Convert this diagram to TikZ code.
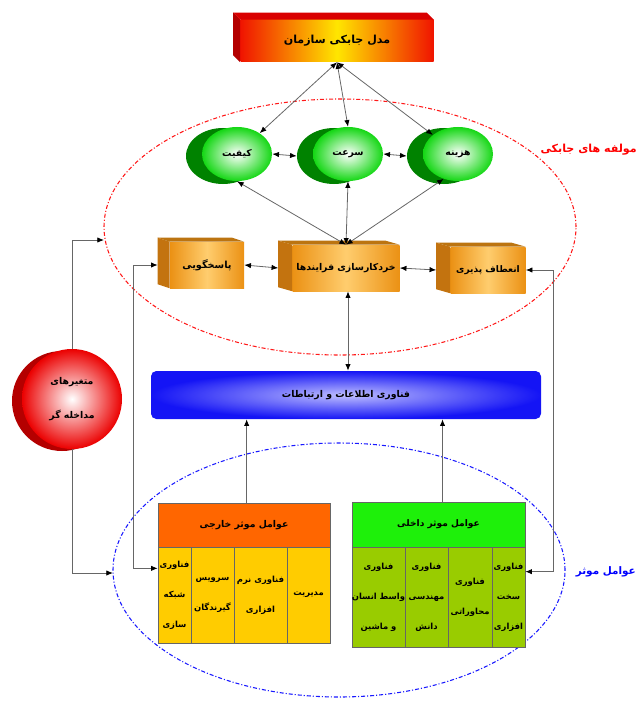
\documentclass[tikz,border=0pt]{standalone}
\usepackage{fontspec}
\newfontfamily\fa[Script=Arabic]{DejaVu Sans}
\TeXXeTstate=1
\usetikzlibrary{shapes.geometric,arrows.meta}
\newcommand{\Rl}[1]{\beginR #1\endR}
\newcommand{\fs}[2]{\fa\bfseries\fontsize{#1}{#2}\selectfont}
\def\pxu{0.75pt}
\definecolor{topred}{RGB}{240,20,0}
\definecolor{topyel}{RGB}{255,230,0}
\definecolor{gdark}{RGB}{0,130,0}
\definecolor{gmain}{RGB}{20,215,20}
\definecolor{orA}{RGB}{235,145,20}
\definecolor{orB}{RGB}{255,205,110}
\definecolor{orSide}{RGB}{195,115,15}
\definecolor{itblue}{RGB}{20,20,245}
\definecolor{itlight}{RGB}{190,190,255}
\definecolor{extH}{RGB}{255,102,0}
\definecolor{extB}{RGB}{255,204,0}
\definecolor{intH}{RGB}{30,240,10}
\definecolor{intB}{RGB}{153,204,0}
\definecolor{cred}{RGB}{235,0,0}
\definecolor{cdark}{RGB}{180,0,0}
\begin{document}
\begin{tikzpicture}[x=0.75pt,y=-0.75pt,
  font=\fs{7.5}{10},
  >={Latex[length=5pt,width=4pt,color=black]},
  link/.style={draw=black!60, line width=0.6pt},
  topface/.style={rectangle, left color=topred, right color=topred, middle color=topyel, inner sep=0pt},
  backell/.style={ellipse, fill=gdark, minimum width=74*\pxu, minimum height=56*\pxu, inner sep=0pt},
  frontell/.style={ellipse, inner color=white, outer color=gmain, minimum width=70*\pxu, minimum height=54*\pxu, inner sep=0pt, font=\fs{7}{9}},
  obox/.style={rectangle, left color=orA, right color=orA, middle color=orB, minimum height=46*\pxu, inner sep=0pt},
  oside/.style={fill=orSide},
  itbar/.style={rectangle, rounded corners=4pt, inner color=itlight, outer color=itblue, minimum width=390*\pxu, minimum height=48*\pxu, inner sep=0pt, font=\fs{7}{9}},
  exthead/.style={rectangle, draw=black!60, fill=extH, minimum width=172*\pxu, minimum height=44*\pxu, inner sep=0pt, font=\fs{7}{9}},
  inthead/.style={rectangle, draw=black!60, fill=intH, minimum width=173*\pxu, minimum height=45*\pxu, inner sep=0pt, font=\fs{6.8}{9}},
  extcell/.style={rectangle, draw=black!60, fill=extB, minimum height=96*\pxu, inner sep=0pt},
  intcell/.style={rectangle, draw=black!60, fill=intB, minimum height=100*\pxu, inner sep=0pt},
  celltext/.style={inner sep=0pt, align=center, font=\fs{6.3}{22.5}},
  reddash/.style={draw=red!90, line width=0.8pt, dash pattern=on 3pt off 1.5pt on 0.8pt off 1.5pt},
  bluedash/.style={draw=blue!90, line width=0.8pt, dash pattern=on 3pt off 1.5pt on 0.8pt off 1.5pt}
]
\useasboundingbox (0,0) rectangle (639,706);

% dash-dot ellipses
\draw[reddash] (340,227) ellipse [x radius=177pt, y radius=96pt];
\draw[bluedash] (339,570) ellipse [x radius=169.5pt, y radius=95.25pt];

% top box
\node[topface, minimum width=193*\pxu, minimum height=42*\pxu, font=\fs{8.3}{10}] (top) at (337,41) {\Rl{مدل جابکی سازمان}};
\fill[cdark] (top.north west) -- ++(-7,-7) -- ([shift={(-7,-7)}]top.south west) -- (top.south west) -- cycle;
\fill[red!85!black] (top.north west) -- ++(-7,-7) -- ([shift={(-7,-7)}]top.north east) -- (top.north east) -- cycle;

% green ellipses
\node[backell] (qualb) at (223,156) {};
\node[frontell] (qual) at (237,154) {\Rl{کیفیت}};
\node[backell] (speedb) at (334,156) {};
\node[frontell] (speed) at (348,154) {\Rl{سرعت}};
\node[backell] (costb) at (444,156) {};
\node[frontell] (cost) at (458,154) {\Rl{هزینه}};

% orange boxes
\node[obox, minimum width=74*\pxu, font=\fs{7.3}{9}] (resp) at (207,265) {\Rl{پاسخگویی}};
\fill[oside] (resp.north west) -- ++(-12,-4) -- ([shift={(-12,-4)}]resp.south west) -- (resp.south west) -- cycle;
\fill[orA!80!black] (resp.north west) -- ++(-12,-4) -- ([shift={(-12,-4)}]resp.north east) -- (resp.north east) -- cycle;
\node[obox, minimum width=107*\pxu, font=\fs{7}{9}] (proc) at (346,268) {\Rl{خردکارسازی فرایندها}};
\fill[oside] (proc.north west) -- ++(-14,-4) -- ([shift={(-14,-4)}]proc.south west) -- (proc.south west) -- cycle;
\fill[orA!80!black] (proc.north west) -- ++(-14,-4) -- ([shift={(-14,-4)}]proc.north east) -- (proc.north east) -- cycle;
\node[obox, minimum width=75*\pxu, font=\fs{6.8}{9}] (flex) at (488,270) {\Rl{انعطاف پذیری}};
\fill[oside] (flex.north west) -- ++(-14,-4) -- ([shift={(-14,-4)}]flex.south west) -- (flex.south west) -- cycle;
\fill[orA!80!black] (flex.north west) -- ++(-14,-4) -- ([shift={(-14,-4)}]flex.north east) -- (flex.north east) -- cycle;

% IT bar
\node[itbar] (it) at (346,395) {\Rl{فناوری اطلاعات و ارتباطات}};

% red circle
\node[circle, fill=cdark, minimum size=100*\pxu, inner sep=0pt] (circb) at (62,401) {};
\node[circle, inner color=white, outer color=cred, minimum size=100*\pxu, inner sep=0pt, align=center, font=\fs{7}{26}] (circ) at (72,399) {\Rl{متغیرهای}\\\Rl{مداخله گر}};

% external table
\node[exthead] (exth) at (244,525) {\Rl{عوامل موثر خارجی}};
\node[extcell, minimum width=33*\pxu] (ext1) at (174.5,595) {};
\node[extcell, minimum width=43*\pxu] (ext2) at (212.5,595) {};
\node[extcell, minimum width=53*\pxu] (ext3) at (260.5,595) {};
\node[extcell, minimum width=43*\pxu] (ext4) at (308.5,595) {};
\node[celltext] (ext1t) at (ext1) {\Rl{فناوری}\\\Rl{شبکه}\\\Rl{سازی}};
\node[celltext] (ext2t) at (ext2) {\Rl{سرویس}\\\Rl{گیرندگان}};
\node[celltext] (ext3t) at (ext3) {\Rl{فناوری نرم}\\\Rl{افزاری}};
\node[celltext] (ext4t) at (ext4) {\Rl{مدیریت}};

% internal table
\node[inthead] (inth) at (438.5,524.5) {\Rl{عوامل موثر داخلی}};
\node[intcell, minimum width=53*\pxu] (int1) at (378.5,597) {};
\node[intcell, minimum width=43*\pxu] (int2) at (426.5,597) {};
\node[intcell, minimum width=44*\pxu] (int3) at (470,597) {};
\node[intcell, minimum width=33*\pxu] (int4) at (508.5,597) {};
\node[celltext] (int1t) at (int1) {\Rl{فناوری}\\\Rl{واسط انسان}\\\Rl{و ماشین}};
\node[celltext] (int2t) at (int2) {\Rl{فناوری}\\\Rl{مهندسی}\\\Rl{دانش}};
\node[celltext] (int3t) at (int3) {\Rl{فناوری}\\\Rl{محاوراتی}};
\node[celltext] (int4t) at (int4) {\Rl{فناوری}\\\Rl{سخت}\\\Rl{افزاری}};

% labels
\node[text=red, font=\fs{8.3}{10}, anchor=east, inner sep=0pt] (lab1) at (637,150) {\Rl{مولفه های جابکی}};
\node[text=blue, font=\fs{7.8}{10}, anchor=east, inner sep=0pt] (lab2) at (636,572) {\Rl{عوامل موثر}};

% connectors: top box to ellipses
\draw[link,<->] (top.south) -- (qual);
\draw[link,<->] (top.south) -- (speed.north);
\draw[link,<->] (top.south) -- (cost);
\draw[link,<->] (qual.east) -- (speedb.west);
\draw[link,<->] (speed.east) -- (costb.west);
% ellipses to process box
\draw[link,<->] (qual.south) -- (proc.north);
\draw[link,<->] (speed.south) -- (proc.north);
\draw[link,<->] (cost.240) -- (proc.north);
% middle row
\draw[link,<->] (resp.east) -- ([xshift=-10.5pt]proc.west);
\draw[link,<->] (proc.east) -- ([xshift=-10.5pt]flex.west);
\draw[link,<->] (proc.south -| speed.south) -- (speed.south |- it.north);
% tables to IT
\draw[link,->] ([xshift=2pt]exth.north) -- ([xshift=2pt]exth.north |- it.south);
\draw[link,->] ([xshift=3pt]inth.north) -- ([xshift=3pt]inth.north |- it.south);
% side loops
\coordinate (lx) at (133,0);
\coordinate (rx) at (553,0);
\path ([yshift=20pt]ext1.west) coordinate (e1in);
\path ([yshift=19pt]int4.east) coordinate (i4in);
\draw[link,<->] ([xshift=-9pt]resp.west) -- (resp.west -| lx) -- (e1in -| lx) -- (e1in);
\draw[link,<->] (flex.east) -- (flex.east -| rx) -- (i4in -| rx) -- (i4in);
% intervening variables
\coordinate (redin) at (104,240);
\coordinate (bluein) at (113,573);
\draw[link,->] (circ.north) |- (redin);
\draw[link,->] (circ.south) |- (bluein);
\end{tikzpicture}
\end{document}
